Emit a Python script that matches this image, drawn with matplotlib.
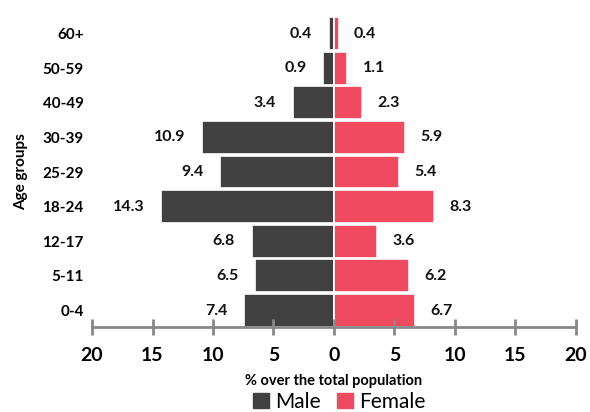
import matplotlib.pyplot as plt
from matplotlib.patches import Patch

plt.rcParams['font.family'] = ['Lato', 'DejaVu Sans']

age_groups = ['0-4', '5-11', '12-17', '18-24', '25-29', '30-39', '40-49', '50-59', '60+']
male = [7.4, 6.5, 6.8, 14.3, 9.4, 10.9, 3.4, 0.9, 0.4]
female = [6.7, 6.2, 3.6, 8.3, 5.4, 5.9, 2.3, 1.1, 0.4]
ticks = [-20, -15, -10, -5, 0, 5, 10, 15, 20]
tick_labels = ['20', '15', '10', '5', '0', '5', '10', '15', '20']

male_color = '#404040'
female_color = '#ef4a60'

fig = plt.figure(figsize=(5.9, 4.12), dpi=100)
ax = fig.add_axes([0.156, 0.206, 0.82, 0.753])

y = range(len(age_groups))
ax.barh(y, [-m for m in male], height=0.95, color=male_color, edgecolor='white', linewidth=1.2)
ax.barh(y, female, height=0.95, color=female_color, edgecolor='white', linewidth=1.2)

for i, (m, f) in enumerate(zip(male, female)):
    ax.annotate(f'{m}', (-m, i), xytext=(-12, 0), textcoords='offset points',
                ha='right', va='center', fontsize=11.5, fontweight='bold', color='#111111')
    ax.annotate(f'{f}', (f, i), xytext=(11, 0), textcoords='offset points',
                ha='left', va='center', fontsize=11.5, fontweight='bold', color='#111111')

ax.set_xlim(-20, 20)
ax.set_ylim(-0.48, 8.48)
ax.set_xticks(ticks)
ax.set_xticklabels(tick_labels, fontsize=14, fontweight='bold')
ax.set_yticks(list(y))
ax.set_yticklabels(age_groups, fontsize=11, fontweight='bold')

for side in ['top', 'right', 'left']:
    ax.spines[side].set_visible(False)
ax.spines['bottom'].set_color('#888888')
ax.spines['bottom'].set_linewidth(2)
ax.tick_params(axis='x', direction='inout', length=11, width=2, color='#888888', pad=9)
ax.tick_params(axis='y', length=0, pad=6)

ax.set_xlabel('% over the total population', fontsize=10.5, fontweight='bold', labelpad=7)
ax.set_ylabel('Age groups', fontsize=11, fontweight='bold', labelpad=10)

handles = [Patch(color=male_color, label='Male'), Patch(color=female_color, label='Female')]
fig.legend(handles=handles, loc='lower center', bbox_to_anchor=(0.575, -0.045), ncol=2,
           frameon=False, fontsize=15, handlelength=0.75, handleheight=0.75,
           handletextpad=0.3, columnspacing=0.8)

plt.savefig('out.png', dpi=100)
plt.close()
